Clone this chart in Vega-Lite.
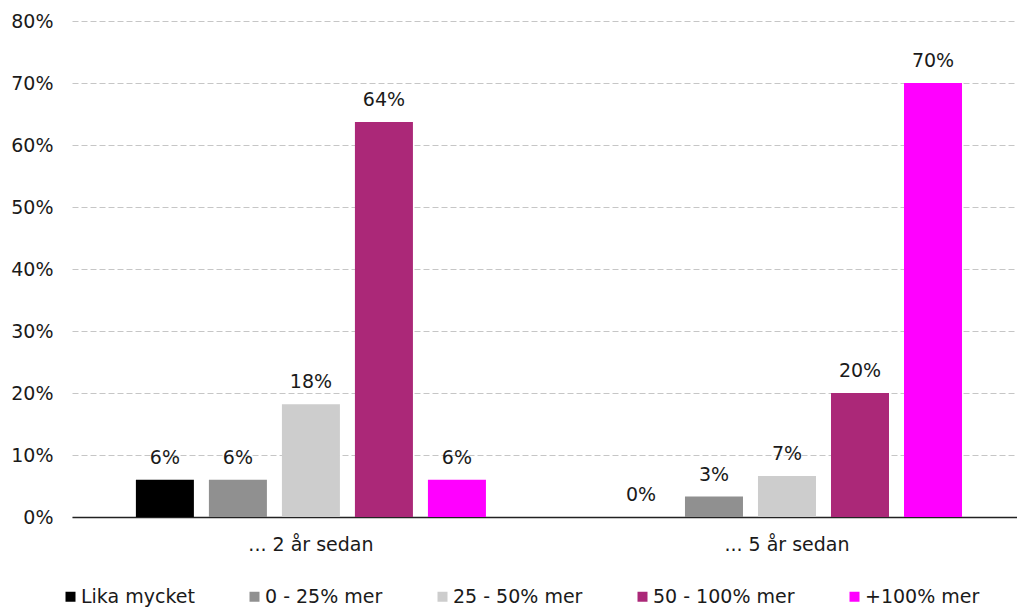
{
  "$schema": "https://vega.github.io/schema/vega-lite/v6.json",
  "autosize": "none",
  "width": 945,
  "height": 496,
  "padding": {"left": 72, "top": 21, "right": 0, "bottom": 91},
  "background": "white",
  "config": {
    "font": "DejaVu Sans",
    "view": {"stroke": null},
    "axis": {"labelFont": "DejaVu Sans", "labelColor": "#1a1a1a", "labelFontSize": 19}
  },
  "data": {
    "values": [
      {"period": "... 2 år sedan", "answer": "Lika mycket", "share": 0.06},
      {"period": "... 2 år sedan", "answer": "0 - 25% mer", "share": 0.06},
      {"period": "... 2 år sedan", "answer": "25 - 50% mer", "share": 0.182},
      {"period": "... 2 år sedan", "answer": "50 - 100% mer", "share": 0.637},
      {"period": "... 2 år sedan", "answer": "+100% mer", "share": 0.06},
      {"period": "... 5 år sedan", "answer": "Lika mycket", "share": 0.0},
      {"period": "... 5 år sedan", "answer": "0 - 25% mer", "share": 0.033},
      {"period": "... 5 år sedan", "answer": "25 - 50% mer", "share": 0.066},
      {"period": "... 5 år sedan", "answer": "50 - 100% mer", "share": 0.2},
      {"period": "... 5 år sedan", "answer": "+100% mer", "share": 0.7}
    ]
  },
  "encoding": {
    "x": {
      "field": "period",
      "type": "nominal",
      "sort": ["... 2 år sedan", "... 5 år sedan"],
      "scale": {"paddingInner": 0.1, "paddingOuter": 0.0425, "align": 0.61},
      "axis": {
        "title": null,
        "labelAngle": 0,
        "ticks": false,
        "labelPadding": 18,
        "domainColor": "#222222",
        "domainWidth": 1.4,
        "grid": false
      }
    },
    "xOffset": {
      "field": "answer",
      "type": "nominal",
      "sort": ["Lika mycket", "0 - 25% mer", "25 - 50% mer", "50 - 100% mer", "+100% mer"],
      "scale": {"paddingInner": 0.2055, "paddingOuter": 0.537}
    },
    "y": {
      "field": "share",
      "type": "quantitative",
      "scale": {"domain": [0, 0.8], "nice": false},
      "axis": {
        "title": null,
        "values": [0, 0.1, 0.2, 0.3, 0.4, 0.5, 0.6, 0.7, 0.8],
        "format": ".0%",
        "domain": false,
        "ticks": false,
        "labelPadding": 19,
        "grid": true,
        "gridColor": "#c6c6c6",
        "gridDash": [6, 3],
        "gridWidth": 1
      }
    }
  },
  "layer": [
    {
      "mark": {"type": "bar"},
      "encoding": {
        "color": {
          "field": "answer",
          "type": "nominal",
          "scale": {
            "domain": ["Lika mycket", "0 - 25% mer", "25 - 50% mer", "50 - 100% mer", "+100% mer"],
            "range": ["#000000", "#909090", "#cdcdcd", "#ab2878", "#ff00ff"]
          },
          "legend": {
            "title": null,
            "orient": "none",
            "direction": "horizontal",
            "legendX": -11,
            "legendY": 566,
            "padding": 0,
            "symbolType": "square",
            "symbolSize": 100,
            "symbolStrokeWidth": 0,
            "labelFontSize": 19,
            "labelColor": "#1a1a1a",
            "labelOffset": 1,
            "columnPadding": 50
          }
        }
      }
    },
    {
      "mark": {"type": "text", "baseline": "alphabetic", "dy": -16, "fontSize": 19, "color": "#1a1a1a"},
      "encoding": {
        "text": {"field": "share", "type": "quantitative", "format": ".0%"}
      }
    }
  ]
}
